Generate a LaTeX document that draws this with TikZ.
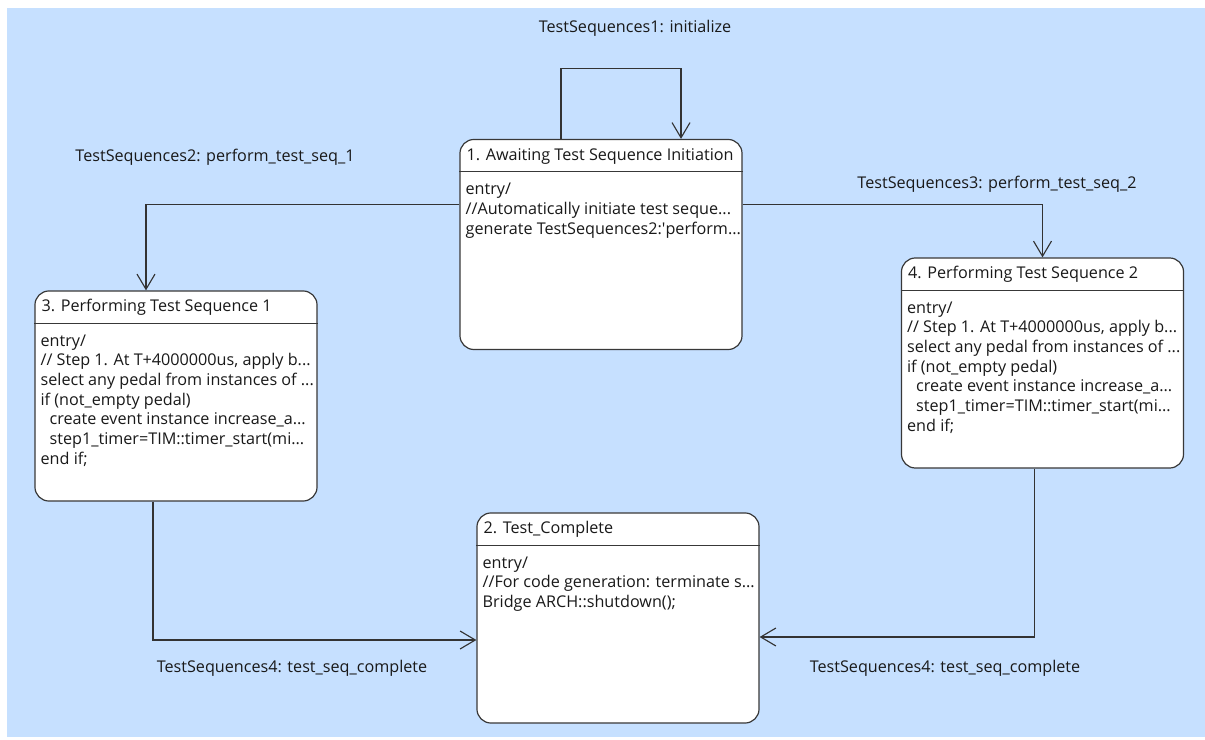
\documentclass[tikz,border=0pt]{standalone}
\usepackage{fontspec}
\setmainfont{Open Sans}
\usetikzlibrary{arrows.meta}
\definecolor{canvas}{RGB}{198,224,255}

\begin{document}
\begin{tikzpicture}[x=0.025cm,y=-0.025cm,font=\fontsize{11.5}{14}\selectfont,
  state/.style={draw=black!78,line width=0.85pt,fill=white,rounded corners=0.35cm,
    minimum width=7.05cm,minimum height=5.25cm,inner sep=0pt},
  title/.style={anchor=west,inner sep=0pt,text=black!90},
  body/.style={anchor=north west,align=left,inner sep=0pt,text=black!90},
  trans/.style={draw=black!80,line width=0.8pt,-{Straight Barb[length=0.38cm,width=0.45cm]}},
  evt/.style={inner sep=0pt,text=black!90}]
\useasboundingbox (0,0) rectangle (1205,740);
\fill[canvas] (7,8) rectangle (1205,737);

% the four states
\node[state] (s1) at (601,244.5) {};
\node[state] (s2) at (618,618) {};
\node[state] (s3) at (176,396) {};
\node[state] (s4) at (1042.5,363) {};
\foreach \s in {s1,s2,s3,s4}
  \draw[black!78,line width=0.85pt] ([yshift=-0.825cm]\s.north west)--([yshift=-0.825cm]\s.north east);

\node[title] (t1) at ([xshift=0.175cm,yshift=-0.43cm]s1.north west) {1. Awaiting Test Sequence Initiation};
\node[body] (b1) at ([xshift=0.15cm,yshift=-1.1cm]s1.north west)
  {entry/\\//Automatically initiate test seque...\\generate TestSequences2:\textquotesingle perform...};

\node[title] (t2) at ([xshift=0.175cm,yshift=-0.43cm]s2.north west) {2. Test\_Complete};
\node[body] (b2) at ([xshift=0.15cm,yshift=-1.1cm]s2.north west)
  {entry/\\//For code generation: terminate s...\\Bridge ARCH::shutdown();};

\node[title] (t3) at ([xshift=0.175cm,yshift=-0.43cm]s3.north west) {3. Performing Test Sequence 1};
\node[body] (b3) at ([xshift=0.15cm,yshift=-1.1cm]s3.north west)
  {entry/\\// Step 1. At T+4000000us, apply b...\\select any pedal from instances of ...\\if (not\_empty pedal)\\
   \hspace*{6.4pt}create event instance increase\_a...\\\hspace*{6.4pt}step1\_timer=TIM::timer\_start(mi...\\end if;};

\node[title] (t4) at ([xshift=0.175cm,yshift=-0.43cm]s4.north west) {4. Performing Test Sequence 2};
\node[body] (b4) at ([xshift=0.15cm,yshift=-1.1cm]s4.north west)
  {entry/\\// Step 1. At T+4000000us, apply b...\\select any pedal from instances of ...\\if (not\_empty pedal)\\
   \hspace*{6.4pt}create event instance increase\_a...\\\hspace*{6.4pt}step1\_timer=TIM::timer\_start(mi...\\end if;};

% transitions
\draw[trans] ([xshift=-1cm]s1.north)--++(0,-70)-|([xshift=2cm]s1.north);
\draw[trans] ([yshift=1cm]s1.west)-|([xshift=-0.75cm]s3.north);
\draw[trans] ([yshift=1cm]s1.east)-|(s4.north);
\draw[trans] ([xshift=-0.575cm]s3.south)|-([yshift=-0.55cm]s2.west);
\draw[trans] ([xshift=-0.19cm]s4.south)|-([yshift=-0.475cm]s2.east);

\node[evt] (e1) at (635,28) {TestSequences1: initialize};
\node[evt] (e2) at (215,157) {TestSequences2: perform\_test\_seq\_1};
\node[evt] (e3) at (997,184) {TestSequences3: perform\_test\_seq\_2};
\node[evt] (e4) at (292,668) {TestSequences4: test\_seq\_complete};
\node[evt] (e5) at (945,668) {TestSequences4: test\_seq\_complete};
\end{tikzpicture}
\end{document}
